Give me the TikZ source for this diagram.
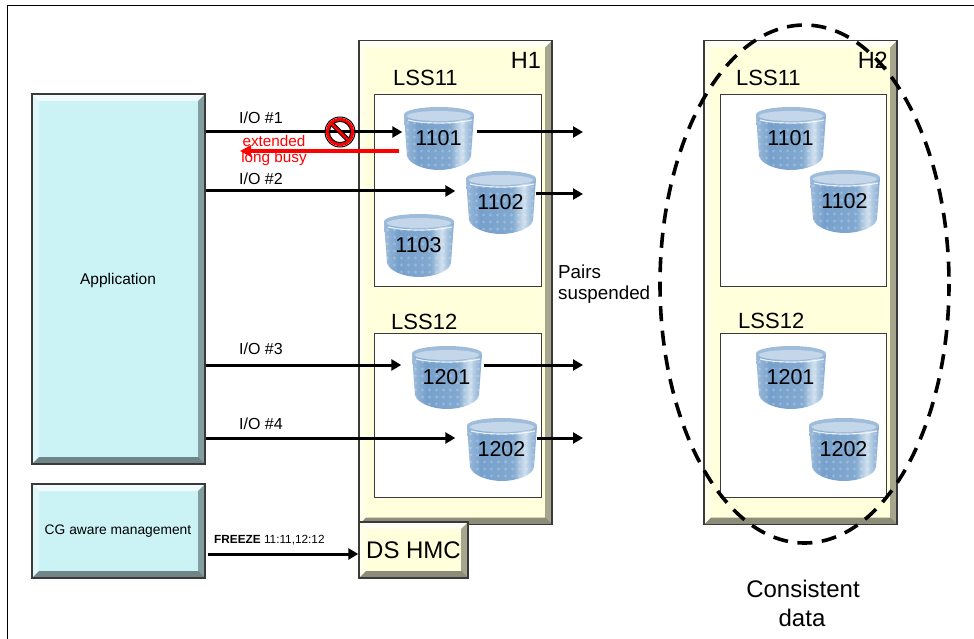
\documentclass[tikz,border=0pt]{standalone}
\usepackage{fontspec}
\setmainfont{Liberation Sans}
\usetikzlibrary{arrows.meta,calc,shapes.geometric}
\definecolor{cyanfill}{HTML}{CBF3F6}
\definecolor{creamfill}{HTML}{FFFFDC}
\definecolor{edgegray}{HTML}{3A3A3A}
\definecolor{diskA}{HTML}{9DBBDA}
\definecolor{diskB}{HTML}{76A0CC}
\definecolor{diskC}{HTML}{82A9D0}
\definecolor{diskD}{HTML}{CFE0EE}
\definecolor{diskE}{HTML}{8FB2D5}
\pgfdeclarehorizontalshading{diskbody}{100bp}{
 color(0bp)=(diskA);
 color(25bp)=(diskA);color(35bp)=(diskB);color(58bp)=(diskC);color(66bp)=(diskD);color(73bp)=(diskE);color(75bp)=(diskE);
 color(100bp)=(diskE)}
\tikzset{
 fs/.style={font=\fontsize{#1}{30}\selectfont,inner sep=0pt,text=black},
 bevel/.style={draw=edgegray,line width=1.4pt,fill=#1,inner sep=0pt,
  path picture={
   \def\ppb{path picture bounding box}
   \fill[white,opacity=.75] (\ppb.north west)--(\ppb.north east)--([shift={(-7pt,-7pt)}]\ppb.north east)--([shift={(7pt,-7pt)}]\ppb.north west)--cycle;
   \fill[white,opacity=.4] (\ppb.north west)--(\ppb.south west)--([shift={(7pt,7pt)}]\ppb.south west)--([shift={(7pt,-7pt)}]\ppb.north west)--cycle;
   \fill[black,opacity=.35] (\ppb.north east)--(\ppb.south east)--([shift={(-7pt,7pt)}]\ppb.south east)--([shift={(-7pt,-7pt)}]\ppb.north east)--cycle;
   \fill[black,opacity=.45] (\ppb.south west)--(\ppb.south east)--([shift={(-7pt,7pt)}]\ppb.south east)--([shift={(7pt,7pt)}]\ppb.south west)--cycle;
  }},
 lssbox/.style={draw=edgegray,line width=1pt,fill=white,inner sep=0pt},
 arr/.style={line width=3pt,-{Triangle[length=10pt,width=11pt]},black},
 redarr/.style={line width=3.4pt,-{Triangle[length=11pt,width=11pt]},red},
 disklabel/.style={minimum width=70pt,minimum height=65pt,inner sep=0pt,font=\fontsize{21.5}{25}\selectfont,text=black},
}
\newcommand{\diskat}[4]{%
 \begin{scope}[shift={(#2,#3)}]
  \begin{scope}
   \clip (0,9) -- (70,9) -- (67,50) .. controls (66,58) and (50,64) .. (35,64) .. controls (20,64) and (5,58) .. (3,50) -- cycle;
   \shade[shading=diskbody] (0,5) rectangle (70,66);
   \foreach \i in {0,...,9}{\foreach \j in {0,...,7}{
     \fill[white,opacity=.22] (3.5+\i*7,17+\j*7) circle (1.7);}}
  \end{scope}
  \fill[diskB!70!white] (35,8.5) ellipse [x radius=35,y radius=7.5];
  \fill[diskA!60!white] (35,10) ellipse [x radius=32,y radius=5];
  \draw[white,opacity=.8,line width=1.2pt] (4,14) .. controls (20,18) and (50,18) .. (68,14);
  \node[disklabel] (#1) at (34.5,32.5) {#4};
 \end{scope}}
\begin{document}
\begin{tikzpicture}[x=1pt,y=-1pt]
\useasboundingbox (0,0) rectangle (974,639);
% page frame
\draw[black,line width=1pt] (7.5,639) -- (7.5,5.5) -- (974,5.5);
% boxes
\node[bevel=cyanfill,minimum width=173pt,minimum height=370pt] (app) at (118.5,279) {};
\node[fs=15.5] (applabel) at (118,280) {Application};
\node[bevel=cyanfill,minimum width=173pt,minimum height=94pt] (cg) at (118.5,531) {};
\node[fs=13.8] (cglabel) at (118,531) {CG aware management};
\node[bevel=creamfill,minimum width=193pt,minimum height=484pt] (hone) at (455.5,282.5) {};
\node[bevel=creamfill,minimum width=193pt,minimum height=484pt] (htwo) at (800.5,282.5) {};
\node[bevel=creamfill,minimum width=109pt,minimum height=56pt] (hmc) at (413.5,550) {};
\node[fs=24] (hmclabel) at (413.5,550) {DS HMC};
\node[fs=23.5] (honelabel) at (526,60) {H1};
\node[fs=23.5,anchor=east] (htwolabel) at (888,60) {H2};
% LSS boxes
\node[lssbox,minimum width=167pt,minimum height=191pt] (aone) at (458,190.5) {};
\node[lssbox,minimum width=167pt,minimum height=164pt] (atwo) at (458,415) {};
\node[lssbox,minimum width=166pt,minimum height=191pt] (bone) at (803,190.5) {};
\node[lssbox,minimum width=166pt,minimum height=164pt] (btwo) at (803,415) {};
\node[fs=22,anchor=west] (laone) at (393,78) {LSS11};
\node[fs=22,anchor=west] (latwo) at (391,322) {LSS12};
\node[fs=22,anchor=west] (lbone) at (736,78) {LSS11};
\node[fs=22,anchor=west] (lbtwo) at (738,321) {LSS12};
% disks
\diskat{da}{404}{106}{1101}
\diskat{db}{466}{170}{1102}
\diskat{dc}{384}{213}{1103}
\diskat{dd}{412}{345}{1201}
\diskat{de}{467}{417}{1202}
\diskat{fa}{756}{106}{1101}
\diskat{fb}{810}{169}{1102}
\diskat{fd}{756}{345}{1201}
\diskat{fe}{809}{417}{1202}
% free ends
\coordinate (outa) at (583,132);
\coordinate (outb) at (583,194);
\coordinate (outd) at (583,365);
\coordinate (oute) at (583,438);
\coordinate (redend) at (240,151);
% connectors
\draw[arr] (app.east |- outa) -- ([shift={(-1pt,6.5pt)}]da.west);
\draw[arr] ([yshift=88pt]app.east) -- ([shift={(-10pt,11.5pt)}]db.west);
\draw[arr] (app.east |- outd) -- ([shift={(-10pt,12.5pt)}]dd.west);
\draw[arr] (app.east |- oute) -- ([shift={(-11pt,11.5pt)}]de.west);
\draw[arr] ([shift={(3pt,6.5pt)}]da.east) -- (outa);
\draw[arr] ([shift={(0pt,8.5pt)}]db.east) -- (outb);
\draw[arr] ([shift={(2pt,12.5pt)}]dd.east) -- (outd);
\draw[arr] ([shift={(0pt,11.5pt)}]de.east) -- (oute);
\draw[redarr] ([shift={(-4pt,-12.5pt)}]da.west) -- (redend);
\draw[arr] ([shift={(2pt,-23pt)}]cg.east) -- ([yshift=-4pt]hmc.west);
% texts
\node[fs=16,anchor=west] (ioa) at (239,118) {I/O \#1};
\node[fs=16,anchor=west] (iob) at (239,179) {I/O \#2};
\node[fs=16,anchor=west] (ioc) at (239,349) {I/O \#3};
\node[fs=16,anchor=west] (iod) at (239,424) {I/O \#4};
\node[fs=15.3,text=red] (ext) at (274,141) {extended};
\node[fs=15.3,text=red] (lb) at (274,159) {long busy};
\node[fs=11.8,anchor=west] (frz) at (214,540) {\textbf{FREEZE} 11:11,12:12};
\node[fs=18.8,anchor=west] (pairs) at (558,272) {Pairs};
\node[fs=18.8,anchor=west] (susp) at (558,295) {suspended};
\node[fs=24] (cons) at (803,589) {Consistent};
\node[fs=24] (cdata) at (802,618) {data};
% prohibition sign
\draw[black,line width=1pt] (340,132) circle (15);
\draw[red,line width=3.4pt] (340,132) circle (12.6);
\draw[black,line width=1pt] (340,132) circle (10.6);
\draw[black,line width=4.6pt] (332.5,124.5) -- (347.5,139.5);
\draw[red,line width=2.8pt] (332.5,124.5) -- (347.5,139.5);
% consistency ellipse
\draw[black,line width=3.6pt,dash pattern=on 15pt off 9.5pt,dash phase=3pt] (804.5,284) ellipse [x radius=144.5,y radius=259];
\end{tikzpicture}
\end{document}
